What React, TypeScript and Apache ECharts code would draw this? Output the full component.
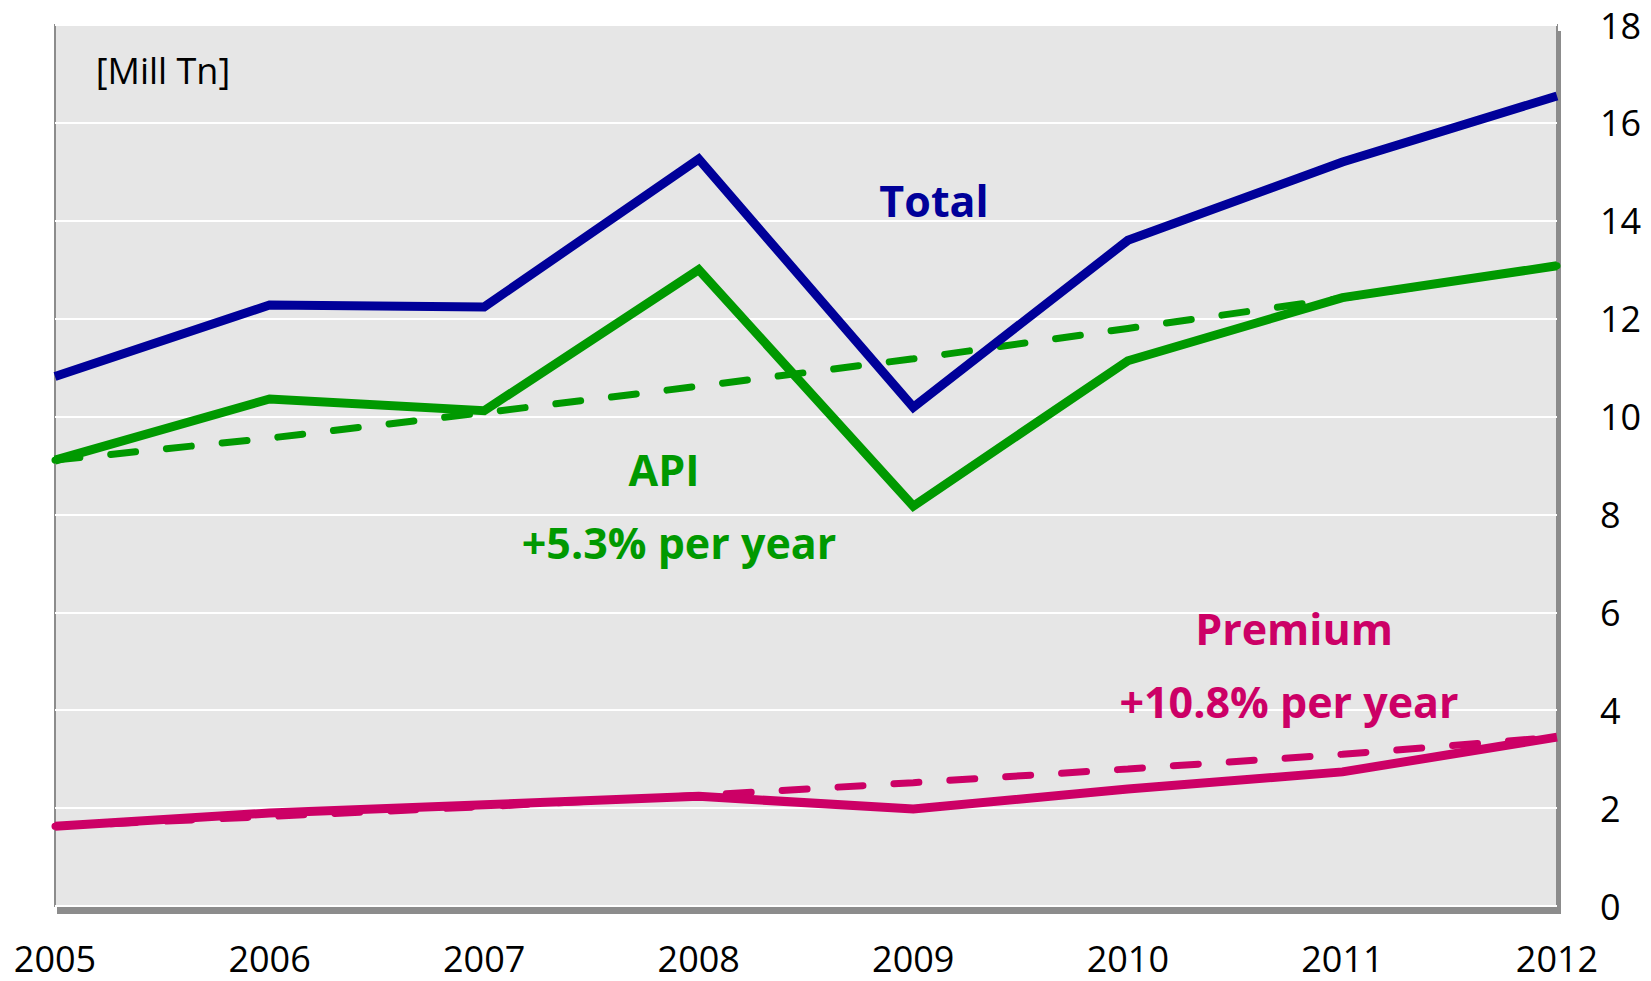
import React, { useEffect, useRef } from "react";
import * as echarts from "echarts";

const years = ["2005", "2006", "2007", "2008", "2009", "2010", "2011", "2012"];
const totalValues = [10.82, 12.28, 12.24, 15.26, 10.19, 13.6, 15.2, 16.55];
const apiValues = [9.11, 10.36, 10.12, 13.0, 8.17, 11.14, 12.43, 13.08];
const apiTrend = [9.11, 9.56, 10.08, 10.62, 11.18, 11.8, 12.42, 13.08];
const premiumValues = [1.63, 1.9, 2.07, 2.24, 1.98, 2.39, 2.74, 3.45];
const premiumTrend = [1.63, 1.83, 2.03, 2.26, 2.52, 2.8, 3.1, 3.45];

const unitLabel = "[Mill Tn]";
const totalLabel = "Total";
const apiLabel = "API";
const apiGrowth = "+5.3% per year";
const premiumLabel = "Premium";
const premiumGrowth = "+10.8% per year";

const NAVY = "#000099";
const GREEN = "#009900";
const MAGENTA = "#CC0066";
const FONT = "'Open Sans', 'Noto Sans', sans-serif";

export default function App() {
  const ref = useRef<HTMLDivElement>(null);

  useEffect(() => {
    if (!ref.current) return;
    const chart = echarts.init(ref.current, null, { renderer: "svg" });
    const dashed = (color: string) => ({
      color,
      width: 7,
      type: [25, 31] as number[],
      cap: "round" as const,
    });
    const label = (text: string, x: number, y: number, fill: string, font: string) => ({
      type: "text",
      x,
      y,
      z: 10,
      style: { text, fill, font, textAlign: "center", textVerticalAlign: "middle" },
    });
    chart.setOption({
      animation: false,
      backgroundColor: "#ffffff",
      grid: {
        left: 55,
        top: 25,
        width: 1502,
        height: 881,
        show: true,
        backgroundColor: "#E6E6E6",
        borderColor: "#8C8C8C",
        borderWidth: 2,
        shadowColor: "#8C8C8C",
        shadowBlur: 0,
        shadowOffsetX: 3,
        shadowOffsetY: 7,
      },
      xAxis: {
        type: "category",
        data: years,
        boundaryGap: false,
        axisLine: { show: false },
        axisTick: { show: false },
        splitLine: { show: false },
        axisLabel: {
          margin: 34,
          color: "#000",
          fontFamily: FONT,
          fontSize: 36,
          lineHeight: 36,
          interval: 0,
        },
      },
      yAxis: {
        type: "value",
        position: "right",
        min: 0,
        max: 18,
        interval: 2,
        axisLine: { show: false },
        axisTick: { show: false },
        splitLine: { show: true, lineStyle: { color: "#FFFFFF", width: 2 } },
        axisLabel: {
          margin: 43,
          align: "left",
          color: "#000",
          fontFamily: FONT,
          fontSize: 36,
        },
      },
      series: [
        {
          name: "API trend",
          type: "line",
          data: apiTrend,
          symbol: "none",
          lineStyle: dashed(GREEN),
          z: 2,
        },
        {
          name: "Premium trend",
          type: "line",
          data: premiumTrend,
          symbol: "none",
          lineStyle: dashed(MAGENTA),
          z: 2,
        },
        {
          name: "Total",
          type: "line",
          data: totalValues,
          symbol: "none",
          lineStyle: { color: NAVY, width: 9, join: "miter" },
          z: 3,
        },
        {
          name: "API",
          type: "line",
          data: apiValues,
          symbol: "none",
          lineStyle: { color: GREEN, width: 9, join: "miter" },
          z: 3,
        },
        {
          name: "Premium",
          type: "line",
          data: premiumValues,
          symbol: "none",
          lineStyle: { color: MAGENTA, width: 9, join: "miter" },
          z: 3,
        },
      ],
      graphic: [
        label(unitLabel, 163, 70, "#000", `36px ${FONT}`),
        label(totalLabel, 934, 200, NAVY, `bold 43px ${FONT}`),
        label(apiLabel, 664, 469, GREEN, `bold 43px ${FONT}`),
        label(apiGrowth, 679, 542, GREEN, `bold 43px ${FONT}`),
        label(premiumLabel, 1294, 628, MAGENTA, `bold 43px ${FONT}`),
        label(premiumGrowth, 1289, 701, MAGENTA, `bold 43px ${FONT}`),
      ],
    });
    return () => chart.dispose();
  }, []);

  return (
    <div
      ref={ref}
      style={{ position: "fixed", left: 0, top: 0, width: 1651, height: 981 }}
    />
  );
}
